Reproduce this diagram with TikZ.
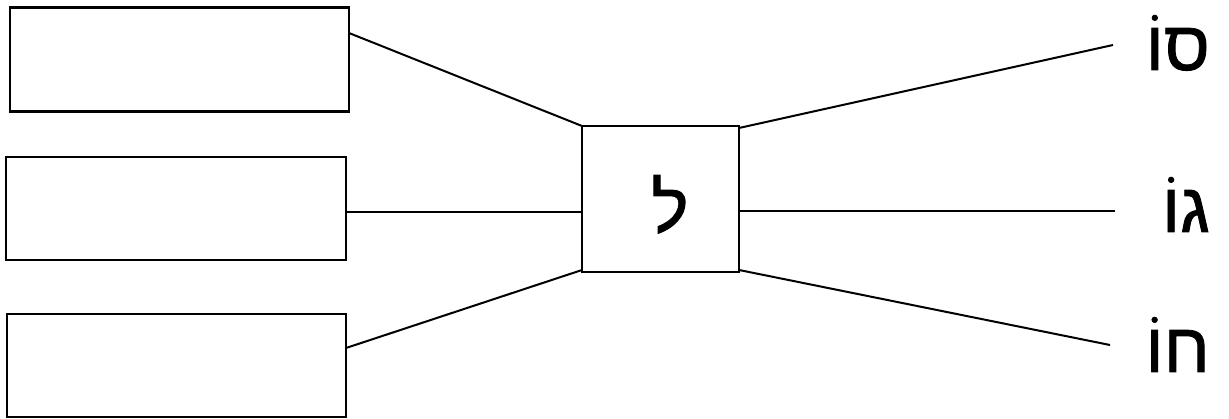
\documentclass[tikz,border=0pt]{standalone}
\usepackage{fontspec}
\newfontfamily\heb[Script=Hebrew,FakeBold=1.2]{Liberation Sans}
\TeXXeTstate=1
\begin{document}
\begin{tikzpicture}[x=1pt,y=1pt,
  box/.style={draw,line width=2.5pt,inner sep=0pt,outer sep=0pt},
  conn/.style={line width=2pt},
  lab/.style={inner sep=0pt,font=\heb\fontsize{70}{74}\selectfont}]
\useasboundingbox (0,0) rectangle (1229,-419);
\node[box,minimum width=339pt,minimum height=104pt] (b1) at (179.5,-59.5) {};
\node[box,minimum width=340pt,minimum height=103pt] (b2) at (176,-208.5) {};
\node[box,minimum width=339pt,minimum height=103pt] (b3) at (176.5,-365.5) {};
\node[box,minimum width=157pt,minimum height=146pt] (c) at (660.5,-199) {};
\node[lab,anchor=base] (lam) at (670,-232) {\beginR ל\endR};
\node[lab,anchor=base east] (t1) at (1210,-70) {\beginR סוֹ\endR};
\node[lab,anchor=base east] (t2) at (1210,-232) {\beginR גוֹ\endR};
\node[lab,anchor=base east] (t3) at (1210,-372) {\beginR חוֹ\endR};
\coordinate (r1) at (1113,-45);
\coordinate (r2) at (1115,-211);
\coordinate (r3) at (1110,-345);
\draw[conn] ([yshift=26.5pt]b1.east) -- (c.north west);
\draw[conn] ([yshift=-3.5pt]b2.east) -- ([yshift=-13pt]c.west);
\draw[conn] ([yshift=17.5pt]b3.east) -- ([yshift=2pt]c.south west);
\draw[conn] ([yshift=-2pt]c.north east) -- (r1);
\draw[conn] ([yshift=-12pt]c.east) -- (r2);
\draw[conn] ([yshift=2pt]c.south east) -- (r3);
\end{tikzpicture}
\end{document}
